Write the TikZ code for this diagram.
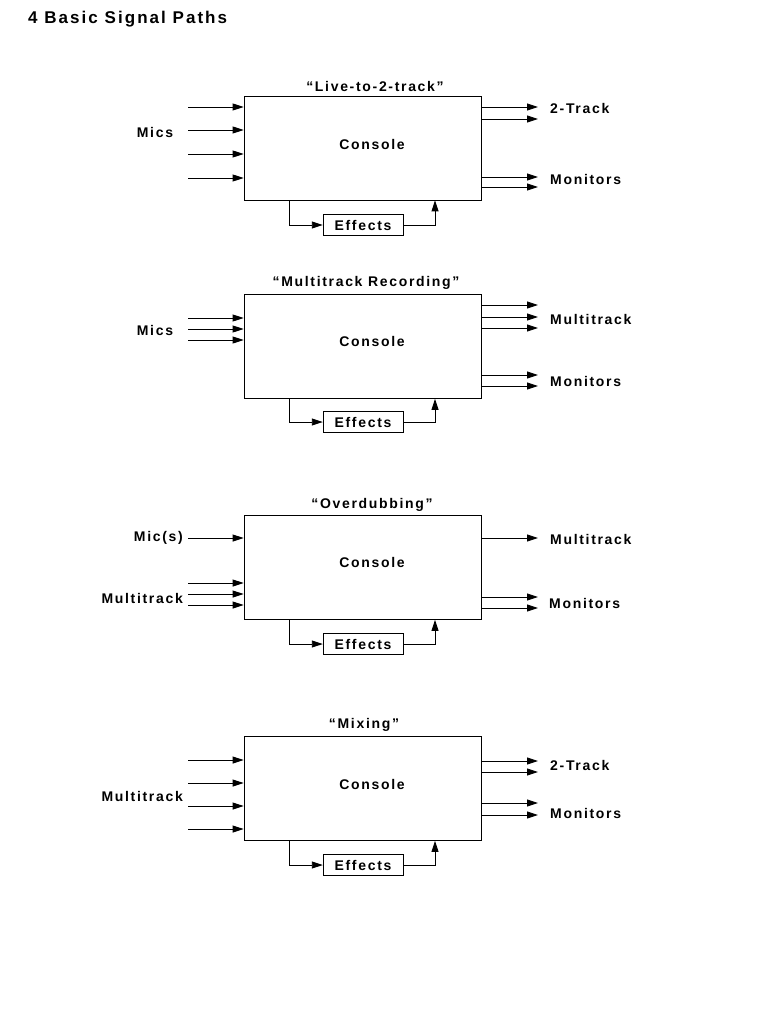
\documentclass[tikz,border=0pt]{standalone}
\usepackage{fontspec}
\setmainfont{Liberation Sans}[LetterSpace=12]
\usetikzlibrary{arrows.meta,positioning}
\tikzset{
  console/.style={rectangle, draw, thick, minimum width=237pt, minimum height=104pt, inner sep=0pt},
  fx/.style={rectangle, draw, minimum width=80pt, minimum height=21pt, inner sep=0pt, font=\bfseries\fontsize{14}{14}\selectfont},
  lbl/.style={font=\bfseries\fontsize{14}{14}\selectfont, inner sep=0pt},
  sig/.style={-{Triangle[length=11pt,width=7pt]}, line width=0.9pt},
}
\begin{document}
\begin{tikzpicture}[x=1pt,y=-1pt]
\useasboundingbox (0,0) rectangle (768,1024);
\node[anchor=west, font=\bfseries\fontsize{17}{17}\selectfont, inner sep=0pt] (head) at (28,19) {4 Basic Signal Paths};

% Live-to-2-track
\node[console] (c1) at (362.5,148) {};
\node[lbl] at (372,144) {Console};
\node[lbl] (t1) at (375,86) {``Live-to-2-track''};
\node[fx] (e1) at (363,225) {Effects};
\foreach \y in {107,130,154,178} { \coordinate (i) at (188,\y); \draw[sig] (i) -- (i -| c1.west); }
\node[lbl] (m1) at (155,132) {Mics};
\foreach \y in {107,119,177,187} { \coordinate (o) at (538,\y); \draw[sig] (o -| c1.east) -- (o); }
\node[lbl, anchor=west] (k1) at (550,108) {2-Track};
\node[lbl, anchor=west] (n1) at (550,179) {Monitors};
\draw[sig] (c1.south -| 289,0) |- (e1.west);
\draw[sig] (e1.east) -| (c1.south -| 435,0);

% Multitrack Recording
\node[console] (c2) at (362.5,346.5) {};
\node[lbl] at (372,341) {Console};
\node[lbl] (t2) at (366,283) {``Multitrack Recording''};
\node[fx] (e2) at (363,422) {Effects};
\foreach \y in {318,329,340} { \coordinate (i) at (188,\y); \draw[sig] (i) -- (i -| c2.west); }
\node[lbl] (m2) at (155,330) {Mics};
\foreach \y in {305,317,328,375,386} { \coordinate (o) at (538,\y); \draw[sig] (o -| c2.east) -- (o); }
\node[lbl, anchor=west] (k2) at (550,319) {Multitrack};
\node[lbl, anchor=west] (n2) at (550,381) {Monitors};
\draw[sig] (c2.south -| 289,0) |- (e2.west);
\draw[sig] (e2.east) -| (c2.south -| 435,0);

% Overdubbing
\node[console] (c3) at (362.5,567.5) {};
\node[lbl] at (372,562) {Console};
\node[lbl] (t3) at (372,505) {``Overdubbing''};
\node[fx] (e3) at (363,644) {Effects};
\coordinate (i) at (188,538); \draw[sig] (i) -- (i -| c3.west);
\node[lbl, anchor=east] (m3) at (183,538) {Mic(s)};
\foreach \y in {583,594,605} { \coordinate (i) at (188,\y); \draw[sig] (i) -- (i -| c3.west); }
\node[lbl, anchor=east] (p3) at (183,598) {Multitrack};
\foreach \y in {538,597,608} { \coordinate (o) at (538,\y); \draw[sig] (o -| c3.east) -- (o); }
\node[lbl, anchor=west] (k3) at (550,539) {Multitrack};
\node[lbl, anchor=west] (n3) at (549,603) {Monitors};
\draw[sig] (c3.south -| 289,0) |- (e3.west);
\draw[sig] (e3.east) -| (c3.south -| 435,0);

% Mixing
\node[console] (c4) at (362.5,788.5) {};
\node[lbl] at (372,784) {Console};
\node[lbl] (t4) at (364,725) {``Mixing''};
\node[fx] (e4) at (363,865) {Effects};
\foreach \y in {760,783,806,829} { \coordinate (i) at (188,\y); \draw[sig] (i) -- (i -| c4.west); }
\node[lbl, anchor=east] (p4) at (183,796) {Multitrack};
\foreach \y in {761,772,803,815} { \coordinate (o) at (538,\y); \draw[sig] (o -| c4.east) -- (o); }
\node[lbl, anchor=west] (k4) at (550,765) {2-Track};
\node[lbl, anchor=west] (n4) at (550,813) {Monitors};
\draw[sig] (c4.south -| 289,0) |- (e4.west);
\draw[sig] (e4.east) -| (c4.south -| 435,0);
\end{tikzpicture}
\end{document}
